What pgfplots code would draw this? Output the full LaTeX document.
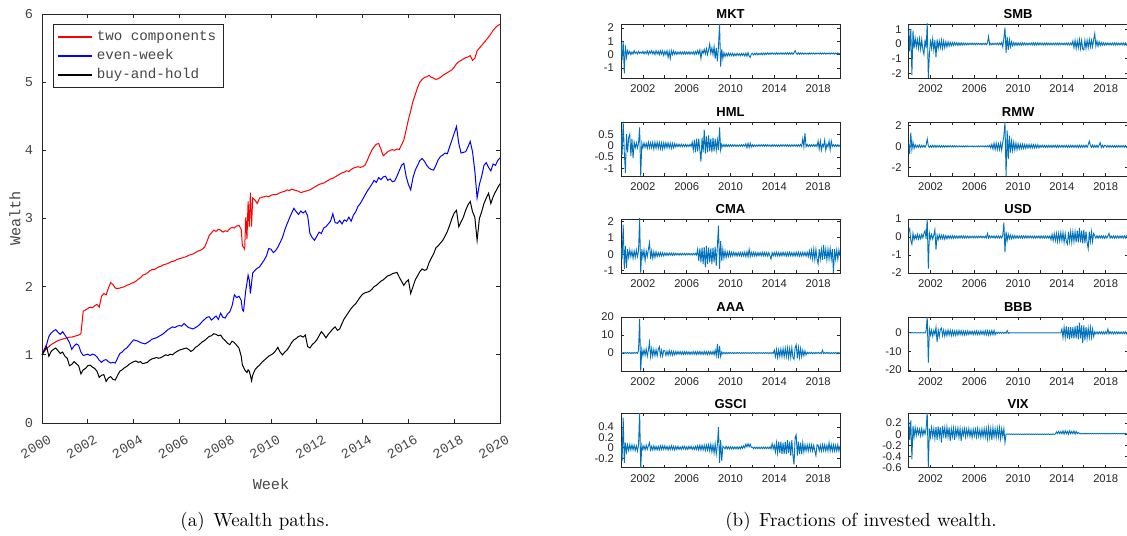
\documentclass[border=0pt]{standalone}
\usepackage{fontspec}
\usepackage{pgfplots}
\pgfplotsset{compat=1.18}
\newfontfamily\matmono{Liberation Mono}
\newfontfamily\matsans{Liberation Sans}
\definecolor{axgray}{RGB}{38,38,38}
\definecolor{labgray}{RGB}{70,70,70}
\definecolor{matblue}{rgb}{0,0.447,0.741}

% wealth paths: year, two components, even-week, buy-and-hold
\pgfplotstableread{
t tc ew bh
2000.0 1.00 1.00 1.00
2000.1 1.05 1.08 1.06
2000.2 1.09 1.15 1.12
2000.3 1.12 1.27 0.98
2000.4 1.15 1.32 1.05
2000.5 1.17 1.35 1.08
2000.6 1.19 1.37 1.10
2000.7 1.21 1.33 1.06
2000.8 1.22 1.30 1.02
2000.9 1.23 1.34 1.04
2001.0 1.24 1.29 0.98
2001.1 1.25 1.24 0.95
2001.2 1.26 1.18 0.84
2001.3 1.26 1.08 0.86
2001.4 1.27 1.13 0.90
2001.5 1.28 1.16 0.87
2001.6 1.29 1.14 0.84
2001.7 1.31 1.04 0.72
2001.8 1.64 0.99 0.78
2001.9 1.66 1.00 0.80
2002.0 1.68 1.01 0.84
2002.1 1.70 0.99 0.85
2002.2 1.69 1.01 0.82
2002.3 1.72 1.00 0.80
2002.4 1.74 0.97 0.76
2002.5 1.70 0.92 0.67
2002.6 1.86 0.89 0.70
2002.7 1.90 0.92 0.71
2002.8 1.88 0.93 0.61
2002.9 1.98 0.90 0.66
2003.0 2.06 0.88 0.68
2003.1 2.03 0.89 0.64
2003.2 1.98 0.88 0.63
2003.3 1.97 0.95 0.70
2003.4 1.98 1.02 0.76
2003.5 1.99 1.04 0.78
2003.6 2.00 1.08 0.81
2003.7 2.02 1.10 0.83
2003.8 2.03 1.14 0.86
2003.9 2.05 1.18 0.88
2004.0 2.06 1.22 0.90
2004.1 2.08 1.21 0.91
2004.2 2.11 1.20 0.89
2004.3 2.13 1.18 0.90
2004.4 2.17 1.17 0.87
2004.5 2.18 1.16 0.88
2004.6 2.20 1.18 0.89
2004.7 2.23 1.20 0.92
2004.8 2.25 1.23 0.94
2004.9 2.25 1.24 0.95
2005.0 2.27 1.25 0.96
2005.1 2.29 1.27 0.95
2005.2 2.30 1.29 0.96
2005.3 2.32 1.31 0.98
2005.4 2.33 1.34 1.00
2005.5 2.34 1.37 0.99
2005.6 2.36 1.39 1.01
2005.7 2.37 1.41 1.00
2005.8 2.38 1.40 1.03
2005.9 2.40 1.42 1.05
2006.0 2.41 1.43 1.07
2006.1 2.42 1.42 1.08
2006.2 2.43 1.46 1.09
2006.3 2.44 1.43 1.10
2006.4 2.46 1.40 1.08
2006.5 2.47 1.39 1.05
2006.6 2.48 1.38 1.07
2006.7 2.50 1.40 1.11
2006.8 2.52 1.42 1.13
2006.9 2.53 1.45 1.16
2007.0 2.55 1.49 1.19
2007.1 2.58 1.52 1.21
2007.2 2.66 1.55 1.24
2007.3 2.75 1.56 1.27
2007.4 2.79 1.51 1.28
2007.5 2.83 1.54 1.31
2007.6 2.81 1.57 1.30
2007.7 2.84 1.52 1.28
2007.8 2.83 1.61 1.29
2007.9 2.80 1.55 1.24
2008.0 2.82 1.54 1.21
2008.1 2.81 1.60 1.17
2008.2 2.85 1.63 1.15
2008.3 2.87 1.72 1.20
2008.4 2.86 1.88 1.18
2008.5 2.89 1.84 1.14
2008.6 2.90 1.86 1.10
2008.7 2.84 1.80 0.98
2008.75 2.60 1.66 0.85
2008.8 2.58 1.64 0.82
2008.85 2.55 1.80 0.78
2008.9 3.02 1.95 0.76
2008.95 2.70 2.05 0.74
2009.0 3.25 2.17 0.78
2009.05 2.88 2.10 0.76
2009.1 3.38 1.90 0.70
2009.15 2.88 2.05 0.62
2009.2 3.30 2.20 0.70
2009.3 3.27 2.24 0.78
2009.4 3.22 2.27 0.82
2009.5 3.30 2.29 0.85
2009.6 3.31 2.34 0.89
2009.7 3.32 2.39 0.92
2009.8 3.33 2.45 0.95
2009.9 3.32 2.56 0.98
2010.0 3.34 2.55 1.00
2010.1 3.35 2.50 1.02
2010.2 3.35 2.53 1.06
2010.3 3.36 2.58 1.11
2010.4 3.38 2.65 1.04
2010.5 3.39 2.72 1.00
2010.6 3.40 2.83 1.04
2010.7 3.42 2.92 1.07
2010.8 3.41 3.00 1.12
2010.9 3.43 3.08 1.18
2011.0 3.42 3.15 1.22
2011.1 3.41 3.10 1.24
2011.2 3.40 3.06 1.27
2011.3 3.38 3.11 1.28
2011.4 3.39 3.08 1.26
2011.5 3.40 3.11 1.29
2011.6 3.41 3.04 1.12
2011.7 3.42 2.78 1.10
2011.8 3.44 2.72 1.15
2011.9 3.46 2.68 1.18
2012.0 3.48 2.74 1.22
2012.1 3.50 2.80 1.28
2012.2 3.51 2.78 1.34
2012.3 3.52 2.86 1.30
2012.4 3.54 2.88 1.25
2012.5 3.56 2.92 1.30
2012.6 3.58 2.96 1.34
2012.7 3.59 3.07 1.38
2012.8 3.61 2.94 1.41
2012.9 3.63 2.93 1.36
2013.0 3.65 2.97 1.38
2013.1 3.67 2.92 1.46
2013.2 3.68 2.98 1.53
2013.3 3.70 2.96 1.58
2013.4 3.69 3.02 1.63
2013.5 3.72 2.96 1.68
2013.6 3.74 3.05 1.72
2013.7 3.75 3.10 1.75
2013.8 3.76 3.18 1.80
2013.9 3.75 3.22 1.85
2014.0 3.76 3.28 1.89
2014.1 3.78 3.34 1.91
2014.2 3.85 3.40 1.92
2014.3 3.93 3.45 1.93
2014.4 4.00 3.50 1.96
2014.5 4.05 3.56 2.00
2014.6 4.09 3.53 2.02
2014.7 4.10 3.60 2.05
2014.8 4.02 3.57 2.08
2014.9 3.92 3.61 2.10
2015.0 3.95 3.62 2.13
2015.1 3.98 3.56 2.16
2015.2 4.00 3.58 2.17
2015.3 4.01 3.54 2.19
2015.4 4.00 3.55 2.20
2015.5 4.02 3.62 2.21
2015.6 4.01 3.70 2.14
2015.7 4.08 3.78 2.08
2015.8 4.15 3.81 2.02
2015.9 4.30 3.62 2.07
2016.0 4.45 3.50 2.10
2016.1 4.58 3.42 1.90
2016.2 4.72 3.60 2.00
2016.3 4.82 3.71 2.10
2016.4 4.92 3.78 2.16
2016.5 5.00 3.85 2.22
2016.6 5.04 3.88 2.26
2016.7 5.07 3.84 2.24
2016.8 5.08 3.78 2.25
2016.9 5.10 3.74 2.35
2017.0 5.07 3.72 2.42
2017.1 5.06 3.71 2.48
2017.2 5.04 3.78 2.57
2017.3 5.05 3.86 2.60
2017.4 5.07 3.91 2.64
2017.5 5.10 3.93 2.68
2017.6 5.12 3.96 2.74
2017.7 5.14 3.95 2.81
2017.8 5.16 4.05 2.90
2017.9 5.18 4.15 3.00
2018.0 5.22 4.25 3.08
2018.1 5.27 4.35 3.12
2018.2 5.30 4.10 2.88
2018.3 5.32 3.96 2.95
2018.4 5.34 3.97 3.02
2018.5 5.36 3.98 3.12
2018.6 5.37 4.05 3.20
2018.7 5.39 4.13 3.25
2018.8 5.32 3.98 3.10
2018.9 5.35 3.70 3.02
2019.0 5.46 3.30 2.68
2019.1 5.50 3.50 3.00
2019.2 5.54 3.62 3.10
2019.3 5.58 3.78 3.22
2019.4 5.62 3.82 3.30
2019.5 5.66 3.75 3.37
2019.6 5.71 3.70 3.22
2019.7 5.76 3.80 3.32
2019.8 5.80 3.78 3.39
2019.9 5.83 3.85 3.45
2020.0 5.85 3.89 3.51
}\wealth

% fractions of invested wealth
\pgfplotstableread{
t MKT SMB HML RMW CMA USD AAA BBB GSCI VIX
2000.0 0.9 1.3 0.6 0.3 0.4 0.3 0.2 0.0 0.12 0.28
2000.1 -0.4 -0.5 -0.4 -0.7 -0.3 0.45 -0.3 0.1 -0.25 -0.1
2000.2 1.0 1.0 1.05 1.3 1.8 -0.2 0.3 -0.1 0.58 0.25
2000.3 -1.4 -2.1 -0.3 -0.3 -0.9 -0.4 -0.2 0.1 -0.29 -0.45
2000.4 0.7 0.9 -1.2 0.4 0.5 0.2 0.3 0.0 0.1 0.15
2000.5 -0.2 -0.3 0.5 -0.2 -0.85 -0.15 -0.2 -0.1 -0.08 -0.05
2000.6 0.3 0.4 -0.3 0.15 0.3 0.1 0.3 0.1 0.06 0.12
2000.7 0.05 -0.2 0.35 -0.1 -0.2 -0.1 -0.2 0.0 -0.05 -0.02
2000.8 0.25 0.3 0.5 0.1 0.25 0.15 0.3 -0.1 0.06 0.1
2000.9 0.0 -0.3 -0.45 -0.08 -0.15 -0.12 -0.3 0.1 -0.04 0.0
2001.0 0.2 0.35 0.3 0.12 0.2 0.1 0.2 -0.1 0.06 0.09
2001.1 0.05 -0.35 -0.55 -0.1 -0.25 -0.1 -0.3 0.1 -0.04 -0.03
2001.2 0.3 0.3 0.15 0.1 0.2 0.15 0.3 0.0 0.05 0.1
2001.3 0.1 -0.4 -0.1 -0.08 -0.2 -0.05 -0.2 -0.1 -0.05 -0.02
2001.4 0.2 -0.7 0.12 0.1 0.25 0.2 0.3 0.1 0.04 0.08
2001.5 0.05 0.3 -0.1 -0.1 -0.15 0.35 -0.2 -0.1 -0.06 0.0
2001.6 0.25 -0.3 0.1 0.12 0.2 -0.1 1.5 1.0 0.05 0.1
2001.7 0.1 1.4 0.8 0.7 2.2 1.0 19 8.5 0.7 0.4
2001.8 0.2 -2.3 -1.34 0.05 -1.15 -1.75 -10 -16 -0.4 -0.6
2001.9 0.1 -0.7 0.1 -0.1 0.3 0.2 2 2 0.05 0.1
2002.0 0.25 0.3 -0.1 0.08 -0.2 -0.1 -1.5 -1.2 -0.03 -0.05
2002.1 0.05 -0.3 0.12 -0.1 0.25 0.15 1.8 1.5 0.04 0.12
2002.2 0.22 0.35 -0.08 0.1 -0.4 -0.12 -1.2 -1.8 -0.04 -0.04
2002.3 0.08 -0.4 0.1 -0.08 0.2 0.1 2.2 1.2 0.05 0.1
2002.4 0.28 0.25 -0.12 0.1 -0.15 0.4 -1.8 -1.0 -0.03 -0.08
2002.5 0.02 -0.9 0.15 -0.1 0.3 -0.7 1.5 3 0.04 0.13
2002.6 0.25 0.3 -0.1 0.08 0.7 0.1 6 -5 0.1 -0.1
2002.7 0.1 -0.3 0.12 -0.07 -0.3 -0.15 -2 1.5 -0.04 0.14
2002.8 0.3 0.2 -0.1 0.09 0.2 0.12 2.5 -2 0.03 -0.05
2002.9 0.05 -0.25 0.14 -0.08 -0.25 -0.1 -1.8 1.8 -0.04 0.12
2003.0 0.25 0.25 -0.15 0.08 0.15 0.1 2 2.5 0.04 -0.15
2003.1 0.0 -0.3 0.15 -0.07 -0.2 -0.1 -1.5 -1.5 -0.04 0.15
2003.2 0.3 0.2 -0.12 0.08 0.15 0.1 1.8 1.5 0.03 -0.02
2003.3 0.05 -0.25 0.15 -0.08 -0.15 -0.12 -1.6 -1.8 -0.04 0.12
2003.4 0.25 0.15 -0.12 0.07 0.1 0.08 2.0 1.2 0.03 -0.08
2003.5 0.0 -0.2 0.14 -0.08 -0.12 -0.1 3.5 -1.5 -0.04 0.13
2003.6 0.3 0.15 -0.13 0.07 0.1 0.08 -1.5 1.5 0.04 -0.05
2003.7 0.05 -0.15 0.12 -0.06 -0.1 -0.08 1.5 -1.2 -0.03 0.12
2003.8 0.28 0.12 -0.15 0.07 0.08 0.07 -1.8 1.4 0.04 -0.12
2003.9 -0.05 -0.12 0.12 -0.06 -0.1 -0.08 1.4 -1.5 -0.03 0.1
2004.0 0.25 0.1 -0.12 0.06 0.08 0.07 1.2 1.2 0.04 -0.04
2004.1 0.0 -0.1 0.13 -0.06 -0.08 -0.07 -1.3 -1.3 -0.03 0.11
2004.2 0.3 0.1 -0.1 0.06 0.07 0.06 1.0 1.0 0.03 -0.1
2004.3 -0.2 -0.08 0.12 -0.05 -0.08 -0.07 -1.2 -1.4 -0.04 0.1
2004.4 0.25 0.09 -0.1 0.06 0.07 0.06 1.4 1.1 0.03 -0.03
2004.5 -0.28 -0.1 0.1 -0.05 -0.06 -0.07 -1.0 -1.2 -0.03 0.11
2004.6 0.3 0.08 -0.12 0.06 0.07 0.06 1.1 1.3 0.04 -0.06
2004.7 0.0 -0.09 0.1 -0.05 -0.07 -0.06 -1.2 -1.0 -0.03 0.1
2004.8 0.28 0.08 -0.1 0.05 0.06 0.07 0.9 1.2 0.03 -0.12
2004.9 0.02 -0.07 0.09 -0.05 -0.06 -0.06 -1.0 -1.1 -0.04 0.09
2005.0 0.22 0.06 -0.06 0.05 0.06 0.06 0.9 1.0 0.03 -0.02
2005.1 0.02 -0.06 0.07 -0.05 -0.05 -0.06 -0.8 -1.1 -0.03 0.1
2005.2 0.2 0.05 -0.05 0.05 0.05 0.05 0.9 0.9 0.03 -0.05
2005.3 0.05 -0.06 0.06 -0.04 -0.06 -0.05 -0.7 -1.0 -0.03 0.09
2005.4 0.22 0.05 -0.05 0.05 0.05 0.05 0.8 1.0 0.02 -0.03
2005.5 0.03 -0.05 0.06 -0.04 -0.05 -0.06 -0.8 -0.9 -0.03 0.1
2005.6 0.2 0.05 -0.05 0.04 0.05 0.05 0.7 0.9 0.03 -0.04
2005.7 0.05 -0.05 0.05 -0.04 -0.04 -0.05 -0.8 -0.8 -0.02 0.08
2005.8 0.22 0.06 -0.04 0.05 0.05 0.05 0.8 0.9 0.03 -0.06
2005.9 0.04 -0.05 0.05 -0.04 -0.05 -0.05 -0.7 -1.0 -0.03 0.09
2006.0 0.2 0.05 -0.05 0.04 0.05 0.05 0.8 0.9 0.02 -0.03
2006.1 0.05 -0.05 0.04 -0.04 -0.04 -0.05 -0.7 -0.8 -0.03 0.09
2006.2 0.22 0.05 -0.04 0.04 0.05 0.04 0.7 1.0 0.03 -0.05
2006.3 0.03 -0.04 0.05 -0.04 -0.05 -0.05 -0.8 -0.9 -0.02 0.1
2006.4 0.2 0.05 -0.04 0.05 0.04 0.05 0.6 0.8 0.03 -0.04
2006.5 0.05 -0.05 0.15 -0.04 -0.05 -0.04 -0.7 -0.9 -0.03 0.08
2006.6 0.22 0.04 -0.2 0.04 0.05 0.05 0.8 1.0 0.02 -0.06
2006.7 0.02 -0.05 0.25 -0.04 -0.04 -0.05 -0.6 -0.8 -0.03 0.09
2006.8 0.24 0.05 -0.3 0.05 0.05 0.04 0.7 0.9 0.03 -0.05
2006.9 0.05 -0.04 0.3 -0.05 -0.05 -0.05 -0.8 -1.0 -0.03 0.1
2007.0 0.3 0.05 -0.25 0.05 0.3 0.05 0.8 1.2 0.04 -0.05
2007.1 0.05 -0.05 0.3 -0.05 -0.4 -0.05 -0.7 -1.0 -0.04 0.1
2007.2 0.35 0.06 -0.2 0.06 0.35 0.2 0.9 1.1 0.05 -0.08
2007.3 -0.3 0.5 -0.7 -0.05 -0.5 -0.06 -0.8 -1.2 -0.04 0.12
2007.4 0.3 -0.05 0.35 0.1 0.4 0.06 0.7 1.0 0.05 -0.06
2007.5 0.1 0.05 -0.3 -0.15 -0.6 -0.05 -0.8 -1.1 -0.04 0.1
2007.6 0.4 -0.06 0.7 0.2 0.45 0.06 0.9 1.2 0.05 -0.1
2007.7 0.05 0.05 -0.35 -0.25 -0.8 -0.05 -0.7 -1.0 -0.05 0.12
2007.8 0.45 -0.05 0.4 0.3 0.5 0.06 0.8 1.3 0.05 -0.05
2007.9 0.0 0.05 -0.3 -0.3 -0.6 -0.06 -0.9 -1.0 -0.04 0.1
2008.0 0.35 -0.05 0.45 0.3 0.4 0.06 0.9 0.3 0.06 -0.06
2008.1 0.8 0.06 -0.25 -0.3 -0.5 -0.05 -0.7 -0.3 -0.06 0.11
2008.2 0.1 -0.05 0.3 0.25 0.35 0.06 0.8 0.3 0.07 -0.05
2008.3 0.5 0.06 -0.3 -0.3 -0.6 -0.06 -0.8 -0.25 -0.08 0.12
2008.4 0.0 -0.05 0.35 0.3 0.4 0.05 0.9 0.3 0.06 -0.08
2008.5 0.6 0.1 -0.25 -0.35 -0.5 -0.06 -1.0 -0.3 -0.1 0.1
2008.6 -0.3 -0.2 0.3 0.4 0.45 0.1 1.5 0.25 0.08 -0.04
2008.7 0.5 0.4 -0.2 1.0 -0.7 0.8 -1.5 -0.3 -0.12 0.1
2008.8 -0.5 1.1 0.25 2.3 0.5 -0.85 5 0.3 0.05 -0.15
2008.9 0.6 -0.6 -0.2 -2.8 1.75 0.3 -3 -0.2 0.4 0.0
2009.0 2.3 0.5 0.8 1.5 -0.9 -0.2 4 1.2 -0.29 0.0
2009.1 -0.9 -0.4 -0.2 -1.2 0.8 0.15 -2 -0.3 0.15 0.0
2009.2 0.4 0.3 0.06 1.0 -0.4 -0.1 0.6 0.1 -0.25 0.005
2009.3 -0.3 -0.2 -0.05 -0.6 0.3 0.1 -0.5 -0.05 0.03 -0.005
2009.4 0.15 0.15 0.05 0.5 -0.25 -0.1 0.4 0.05 0.01 0.005
2009.5 -0.15 -0.12 -0.05 -0.4 0.2 0.08 -0.4 -0.05 -0.02 -0.005
2009.6 0.1 0.1 0.05 0.4 -0.2 -0.08 0.3 0.05 0.03 0.005
2009.7 -0.1 -0.1 -0.04 -0.35 0.15 0.08 -0.3 -0.05 -0.02 -0.005
2009.8 0.12 0.08 0.04 0.3 -0.15 -0.07 0.3 0.05 0.02 0.005
2009.9 -0.08 -0.09 -0.04 -0.3 0.15 0.07 -0.3 -0.05 -0.02 -0.005
2010.0 0.1 0.08 0.04 0.25 -0.12 -0.07 0.3 0.05 0.02 0.005
2010.1 -0.08 -0.08 -0.04 -0.25 0.12 0.07 -0.25 -0.05 -0.02 -0.005
2010.2 0.1 0.07 0.04 0.2 -0.1 -0.06 0.25 0.04 0.02 0.005
2010.3 -0.1 -0.08 -0.03 -0.22 0.12 0.06 -0.3 -0.04 -0.02 -0.005
2010.4 0.08 0.07 0.04 0.2 -0.1 -0.07 0.2 0.05 0.02 0.005
2010.5 -0.08 -0.06 -0.04 -0.2 0.1 0.06 -0.25 -0.04 -0.02 -0.005
2010.6 0.1 0.07 0.03 0.18 -0.12 -0.06 0.3 0.04 0.02 0.005
2010.7 -0.06 -0.07 -0.04 -0.2 0.1 0.07 -0.2 -0.05 -0.02 -0.005
2010.8 0.08 0.06 0.03 0.18 -0.1 -0.06 0.25 0.04 0.02 0.005
2010.9 -0.08 -0.07 -0.03 -0.17 0.1 0.06 -0.25 -0.04 -0.02 -0.005
2011.0 0.1 0.06 0.04 0.18 -0.12 -0.05 0.2 0.04 0.03 0.005
2011.1 -0.06 -0.06 -0.03 -0.16 0.1 0.06 -0.25 -0.04 -0.01 -0.005
2011.2 0.08 0.07 0.04 0.17 -0.1 -0.05 0.2 0.04 0.04 0.005
2011.3 -0.1 -0.06 -0.03 -0.15 0.12 0.05 -0.2 -0.04 0.0 -0.005
2011.4 0.12 0.08 0.08 0.16 -0.15 -0.06 0.25 0.05 0.07 0.005
2011.5 -0.12 -0.08 -0.1 -0.15 0.15 0.05 -0.2 -0.04 0.02 -0.005
2011.6 0.15 0.07 0.1 0.15 -0.15 -0.06 0.2 0.04 0.08 0.005
2011.7 -0.1 -0.08 -0.08 -0.14 0.3 0.05 -0.25 -0.04 0.02 -0.005
2011.8 -0.2 0.08 0.1 0.15 -0.15 -0.05 0.2 0.05 0.07 0.005
2011.9 0.05 -0.07 -0.06 -0.14 0.12 0.06 -0.2 -0.04 0.01 -0.005
2012.0 0.1 0.07 0.04 0.1 -0.1 -0.07 0.25 0.04 0.015 0.005
2012.1 -0.02 -0.06 -0.04 -0.1 0.12 0.06 -0.2 -0.04 -0.015 -0.005
2012.2 0.1 0.06 0.03 0.1 -0.1 -0.06 0.2 0.04 0.015 0.005
2012.3 0.0 -0.07 -0.04 -0.09 0.1 0.06 -0.25 -0.04 -0.015 -0.005
2012.4 0.12 0.06 0.03 0.1 -0.12 -0.06 0.2 0.04 0.015 0.005
2012.5 -0.02 -0.06 -0.03 -0.1 0.1 0.05 -0.2 -0.04 -0.015 -0.005
2012.6 0.1 0.07 0.04 0.09 -0.1 -0.06 0.25 0.04 0.015 0.005
2012.7 0.0 -0.06 -0.03 -0.1 0.1 0.05 -0.2 -0.04 -0.015 -0.005
2012.8 0.12 0.06 0.04 0.1 -0.1 -0.06 0.2 0.04 0.015 0.005
2012.9 -0.01 -0.06 -0.03 -0.09 0.12 0.06 -0.25 -0.04 -0.015 -0.005
2013.0 0.12 0.06 0.04 0.1 -0.1 -0.15 0.2 0.04 0.015 0.005
2013.1 0.0 -0.06 -0.03 -0.1 0.1 0.15 -0.2 -0.04 -0.015 -0.005
2013.2 0.12 0.06 0.04 0.1 -0.1 -0.2 0.25 0.04 0.015 0.005
2013.3 0.02 -0.06 -0.03 -0.08 0.1 0.18 -0.2 -0.04 -0.015 -0.005
2013.4 0.14 0.06 0.04 0.1 -0.12 -0.2 0.2 0.04 0.015 0.005
2013.5 0.02 -0.05 -0.03 -0.1 0.1 0.2 -0.25 -0.04 -0.015 0.04
2013.6 0.13 0.06 0.03 0.1 -0.1 -0.25 0.2 0.04 0.02 0.01
2013.7 0.03 -0.06 -0.04 -0.1 -0.3 0.2 -0.2 -0.04 -0.02 0.05
2013.8 0.14 0.06 0.04 0.1 0.1 -0.22 0.25 0.04 0.08 0.01
2013.9 0.03 -0.05 -0.03 -0.09 -0.1 0.25 -0.2 -0.04 -0.02 0.05
2014.0 0.12 0.06 0.04 0.1 0.1 -0.2 1.5 2 0.05 0.01
2014.1 0.03 -0.06 -0.03 -0.1 -0.1 0.25 -2 -2.5 -0.08 0.06
2014.2 0.14 0.06 0.03 0.1 0.12 -0.3 2 3 0.1 0.0
2014.3 0.02 -0.06 -0.04 -0.09 -0.1 0.2 -2.5 -2.5 -0.1 0.06
2014.4 0.12 0.07 0.03 0.1 0.1 -0.25 1.8 3.5 0.12 0.01
2014.5 0.04 -0.06 -0.04 -0.1 -0.12 -0.4 -2 -3 -0.1 0.05
2014.6 0.14 0.06 0.04 0.09 0.1 0.3 2.2 3 0.12 0.0
2014.7 0.03 -0.07 -0.03 -0.1 -0.1 -0.25 -2 -3.5 -0.12 0.06
2014.8 0.13 0.06 0.04 0.1 0.12 0.3 2.5 3 0.1 0.01
2014.9 0.03 -0.06 -0.03 -0.09 -0.1 -0.3 -2.2 -3 -0.12 0.05
2015.0 0.14 0.2 0.04 0.1 0.1 0.3 2.5 3 0.12 0.01
2015.1 0.03 -0.25 -0.03 -0.1 -0.12 -0.25 -2 -3 -0.12 0.06
2015.2 0.15 0.25 0.04 0.1 0.1 0.3 2.8 3.5 0.15 0.0
2015.3 0.02 -0.3 -0.04 -0.09 -0.1 -0.3 -2.5 -3 -0.1 0.05
2015.4 0.14 0.2 0.03 0.1 0.12 0.35 2.5 4 0.12 0.01
2015.5 0.03 -0.25 -0.04 -0.1 -0.1 -0.3 -2.5 -3.5 -0.15 0.03
2015.6 0.15 0.3 0.04 0.1 0.1 0.5 3 5.5 0.15 0.015
2015.7 0.02 -0.3 -0.03 -0.1 -0.12 -0.3 -2.5 -3 -0.15 0.005
2015.8 0.15 0.25 0.04 0.1 0.1 0.35 -3.5 4 -0.32 0.015
2015.9 0.3 -0.35 -0.03 -0.09 -0.12 -0.35 3 -5.5 0.2 0.005
2016.0 0.12 -0.4 0.04 0.1 0.12 0.4 4.5 4 0.25 0.015
2016.1 0.02 0.25 -0.04 -0.1 -0.1 -0.35 -3 -4 -0.15 0.005
2016.2 0.14 -0.3 0.04 0.12 0.12 0.3 3 3 0.12 0.015
2016.3 0.03 0.25 -0.03 -0.1 -0.12 -0.3 -2.5 -3 -0.12 0.005
2016.4 0.13 -0.25 0.05 0.15 0.1 -0.65 2.5 2.5 0.1 0.015
2016.5 0.03 0.3 -0.04 0.5 -0.12 0.3 -2 -2.5 -0.12 0.005
2016.6 0.13 -0.2 0.3 0.1 0.12 -0.25 1.5 3 0.1 0.015
2016.7 0.03 0.25 -0.05 -0.1 -0.1 0.3 -1.5 -2.5 -0.08 0.005
2016.8 0.12 -0.2 0.55 0.12 0.12 -0.25 1.2 2 0.06 0.015
2016.9 0.04 0.3 -0.05 -0.1 -0.12 0.2 -1.0 -2 -0.06 0.005
2017.0 0.12 0.7 0.05 0.1 0.12 0.08 0.4 0.6 0.06 0.015
2017.1 0.04 -0.15 -0.04 -0.1 -0.15 -0.07 -0.4 -0.6 -0.06 0.005
2017.2 0.13 0.2 0.04 0.1 0.2 0.07 0.4 0.5 0.06 0.015
2017.3 0.04 -0.15 -0.04 -0.1 -0.2 -0.07 -0.3 -0.6 -0.05 0.005
2017.4 0.12 0.15 0.04 0.12 0.25 0.07 0.4 0.6 0.06 0.015
2017.5 0.05 -0.1 -0.04 0.35 -0.3 -0.06 -0.4 -0.5 -0.06 0.005
2017.6 0.13 0.1 0.05 -0.1 0.3 0.07 0.3 0.6 0.05 0.015
2017.7 0.04 -0.08 -0.04 0.1 -0.35 -0.07 -0.4 -0.6 -0.06 0.005
2017.8 0.12 0.08 0.04 -0.1 0.3 0.06 0.4 0.5 -0.15 0.015
2017.9 0.05 -0.08 -0.04 0.1 -0.3 -0.07 -0.3 -0.6 0.06 0.005
2018.0 0.12 0.07 0.2 0.08 -0.6 0.06 0.3 0.6 0.05 0.015
2018.1 0.05 -0.07 -0.15 -0.08 0.3 -0.06 -0.3 -0.5 -0.06 0.005
2018.2 0.13 0.07 0.2 0.08 -0.3 0.07 0.3 2 0.05 0.015
2018.3 0.04 -0.07 -0.2 -0.08 0.3 0.2 -0.3 -0.6 -0.06 0.005
2018.4 0.12 0.06 0.05 0.08 -0.35 -0.06 1.5 0.6 0.06 0.015
2018.5 0.05 -0.07 -0.04 -0.08 0.55 0.06 -0.3 -0.5 -0.05 0.005
2018.6 0.13 0.07 0.25 0.08 -0.3 -0.06 0.3 0.5 0.06 0.015
2018.7 0.04 -0.06 -0.2 -0.08 0.3 0.06 -0.3 -0.6 -0.06 0.005
2018.8 0.12 0.07 0.05 0.08 -0.35 -0.06 0.3 0.5 0.05 0.015
2018.9 0.05 -0.07 -0.05 -0.08 0.3 0.06 -0.3 -0.5 -0.06 0.005
2019.0 0.13 0.07 0.2 0.08 -0.3 -0.06 0.3 0.5 0.1 0.015
2019.1 0.04 -0.07 -0.18 -0.08 0.35 0.06 -0.3 -0.5 -0.06 0.005
2019.2 0.12 0.06 0.2 0.08 -0.3 -0.06 0.3 0.5 0.06 0.015
2019.3 0.05 -0.07 -0.04 -0.08 0.3 0.06 -0.3 -0.5 -0.06 0.005
2019.4 0.13 0.07 0.04 0.08 -1.15 -0.06 0.3 0.5 0.06 0.015
2019.5 0.04 -0.06 -0.04 -0.08 0.3 0.06 -0.3 -0.5 -0.06 0.005
2019.6 0.12 0.07 0.04 0.08 -0.3 -0.06 0.3 0.5 0.05 0.015
2019.7 0.05 -0.07 -0.04 -0.08 0.25 0.06 -0.3 -0.5 -0.06 0.005
2019.8 0.13 0.06 0.04 0.08 -0.3 -0.06 0.3 0.5 0.06 0.015
2019.9 0.04 -0.07 -0.04 -0.08 0.25 0.06 -0.3 -0.5 -0.06 0.005
2020.0 0.1 0.05 0.03 0.06 -0.1 -0.05 0.2 0.4 0.04 0.01
}\fractab

\pgfplotsset{
  /pgf/number format/assume math mode=true,
  /pgf/number format/1000 sep={},
  frac/.style={
    scale only axis, width=109.5pt, height=27pt, anchor=south west,
    xmin=2000, xmax=2020,
    xtick={2002,2006,...,2018}, minor xtick={2000,2004,...,2020},
    major tick length=1.3pt, minor tick length=1.3pt,
    tick label style={font=\matsans\fontsize{5.6}{6}\selectfont, text=axgray},
    axis line style={axgray, line width=0.4pt},
    tick style={axgray, line width=0.4pt},
    every axis title/.style={at={(0.5,1)}, anchor=south, inner sep=1pt, yshift=1.5pt,
      font=\matsans\bfseries\fontsize{6.5}{7}\selectfont, text=black},
  },
  fracline/.style={matblue, line width=0.45pt},
}

\begin{document}
\begin{tikzpicture}
\useasboundingbox (0,0) rectangle (563.5pt,267.5pt);

% (a) wealth paths
\begin{axis}[
  at={(21pt,56pt)}, anchor=south west, scale only axis,
  width=229pt, height=204.5pt,
  xmin=2000, xmax=2020, ymin=0, ymax=6,
  xtick={2000,2002,...,2020}, ytick={0,1,...,6},
  major tick length=2pt,
  axis line style={axgray, line width=0.45pt},
  tick style={axgray, line width=0.45pt},
  tick label style={font=\matmono\fontsize{6.8}{7}\selectfont, text=labgray},
  xticklabel style={rotate=30, anchor=north east, yshift=-3pt, xshift=3pt},
  yticklabel style={xshift=-1pt},
  xlabel={Week}, ylabel={Wealth},
  label style={font=\matmono\fontsize{7.6}{8}\selectfont, text=labgray},
  x label style={at={(axis description cs:0.5,-0.15)}, anchor=center},
  y label style={at={(axis description cs:-0.059,0.5)}, anchor=center},
  legend style={at={(0.025,0.975)}, anchor=north west, draw=axgray, line width=0.45pt,
    font=\matmono\fontsize{7.1}{7.5}\selectfont, inner xsep=1.5pt, inner ysep=1pt,
    row sep=-1pt, text=labgray},
  legend cell align=left,
]
\addlegendimage{red, line width=0.6pt}
\addlegendimage{blue, line width=0.9pt}
\addlegendimage{black, line width=0.6pt}
\addplot[red, line width=0.5pt, forget plot] table[x=t, y=tc] {\wealth};
\addplot[blue, line width=0.5pt, forget plot] table[x=t, y=ew] {\wealth};
\addplot[black, line width=0.5pt, forget plot] table[x=t, y=bh] {\wealth};
\legend{two components, even-week, buy-and-hold}
\end{axis}

% (b) fractions, left column
\begin{axis}[frac, at={(310.5pt,228.5pt)}, title={MKT}, ymin=-1.75, ymax=2.3, ytick={-1,0,1,2}]
\addplot[fracline] table[x=t, y=MKT] {\fractab};
\end{axis}
\begin{axis}[frac, at={(310.5pt,179.5pt)}, title={HML}, ymin=-1.34, ymax=1.04, ytick={-1,-0.5,0,0.5}]
\addplot[fracline] table[x=t, y=HML] {\fractab};
\end{axis}
\begin{axis}[frac, at={(310.5pt,131pt)}, title={CMA}, ymin=-1.15, ymax=2.15, ytick={-1,0,1,2}]
\addplot[fracline] table[x=t, y=CMA] {\fractab};
\end{axis}
\begin{axis}[frac, at={(310.5pt,82pt)}, title={AAA}, ymin=-10, ymax=20, ytick={0,10,20}]
\addplot[fracline] table[x=t, y=AAA] {\fractab};
\end{axis}
\begin{axis}[frac, at={(310.5pt,33.7pt)}, title={GSCI}, ymin=-0.38, ymax=0.66, ytick={-0.2,0,0.2,0.4}]
\addplot[fracline] table[x=t, y=GSCI] {\fractab};
\end{axis}

% (b) fractions, right column
\begin{axis}[frac, at={(454.3pt,228.5pt)}, title={SMB}, ymin=-2.3, ymax=1.35, ytick={-2,-1,0,1}]
\addplot[fracline] table[x=t, y=SMB] {\fractab};
\end{axis}
\begin{axis}[frac, at={(454.3pt,179.5pt)}, title={RMW}, ymin=-2.8, ymax=2.3, ytick={-2,0,2}]
\addplot[fracline] table[x=t, y=RMW] {\fractab};
\end{axis}
\begin{axis}[frac, at={(454.3pt,131pt)}, title={USD}, ymin=-2, ymax=1, ytick={-2,-1,0,1}]
\addplot[fracline] table[x=t, y=USD] {\fractab};
\end{axis}
\begin{axis}[frac, at={(454.3pt,82pt)}, title={BBB}, ymin=-20.5, ymax=8.5, ytick={-20,-10,0}]
\addplot[fracline] table[x=t, y=BBB] {\fractab};
\end{axis}
\begin{axis}[frac, at={(454.3pt,33.7pt)}, title={VIX}, ymin=-0.6, ymax=0.37, ytick={-0.6,-0.4,-0.2,0,0.2}]
\addplot[fracline] table[x=t, y=VIX] {\fractab};
\end{axis}

\node[font=\fontsize{9.5}{11}\selectfont] at (127.5pt,6.5pt) {(a)\hspace{0.45em}Wealth paths.};
\node[font=\fontsize{9.5}{11}\selectfont] at (430.5pt,6.5pt) {(b)\hspace{0.45em}Fractions of invested wealth.};
\end{tikzpicture}
\end{document}
